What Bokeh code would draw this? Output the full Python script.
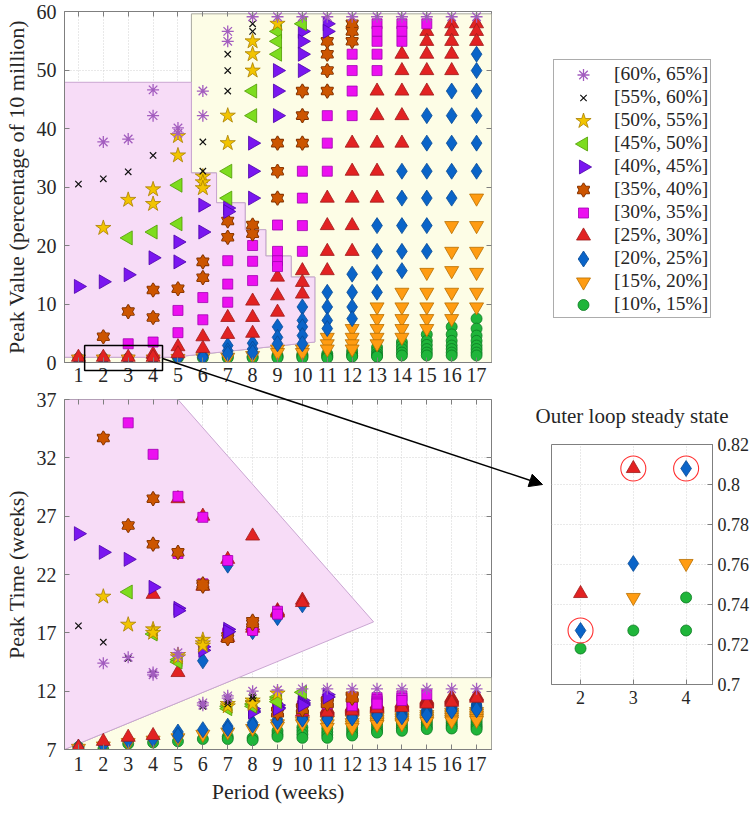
import math
from bokeh.plotting import figure
from bokeh.models import (Range1d, FixedTicker, Legend, LegendItem, Arrow, LinearAxis,
                          NormalHead, ColumnDataSource, CustomJSTickFormatter)
from bokeh.embed import file_html
from bokeh.resources import INLINE

FONT = "Liberation Serif"

# ---------------- ticks and labels ----------------
period_ticks = list(range(1, 18))
peak_ticks = [0, 10, 20, 30, 40, 50, 60]
time_ticks = [7, 12, 17, 22, 27, 32, 37]
inset_period_ticks = [2, 3, 4]
inset_value_ticks = [0.70, 0.72, 0.74, 0.76, 0.78, 0.80, 0.82]

series_keys = ["s60", "s55", "s50", "s45", "s40", "s35", "s30", "s25", "s20", "s15", "s10"]
series_labels = ["[60%, 65%]", "[55%, 60%]", "[50%, 55%]", "[45%, 50%]", "[40%, 45%]",
                 "[35%, 40%]", "[30%, 35%]", "[25%, 30%]", "[20%, 25%]", "[15%, 20%]",
                 "[10%, 15%]"]

# ---------------- series data (period, peak value, peak time) ----------------
s60_period = [2, 3, 4, 4, 5, 5, 6, 6, 7, 7, 8, 9, 10, 11, 12, 13, 14, 15, 16, 17]
s60_peak = [37.7, 38.2, 46.6, 42.2, 40.1, 39.2, 46.4, 42.2, 56.6, 54.9, 59.1, 59.1, 59.1,
            59.1, 59.1, 59.1, 59.1, 59.1, 59.1, 59.1]
s60_time = [14.4, 14.9, 13.6, 13.4, 15.3, 15.0, 11.0, 10.8, 11.6, 11.4, 12.0, 12.1, 12.2,
            12.2, 12.2, 12.2, 12.2, 12.2, 12.2, 12.2]

s55_period = [1, 2, 3, 4, 6, 6, 7, 7, 7, 8, 8]
s55_peak = [30.5, 31.4, 32.6, 35.4, 37.7, 32.7, 52.7, 49.9, 46.4, 57.9, 56.6]
s55_time = [17.6, 16.2, 14.8, 13.5, 10.9, 10.7, 11.3, 11.1, 10.9, 11.6, 11.4]

s50_period = [2, 3, 4, 4, 5, 5, 6, 6, 6, 7, 7, 8, 8, 8, 9]
s50_peak = [23.0, 27.8, 29.6, 27.1, 38.7, 35.4, 31.8, 30.8, 29.8, 42.2, 37.5, 54.9, 52.7, 49.9, 57.9]
s50_time = [20.1, 17.7, 17.3, 17.0, 15.1, 14.9, 16.4, 16.1, 15.9, 10.9, 10.7, 11.2, 11.0, 10.9, 11.8]

s45_period = [3, 4, 5, 5, 7, 7, 8, 8, 9, 9, 9, 10]
s45_peak = [21.3, 22.3, 30.3, 23.7, 32.7, 28.1, 46.4, 42.2, 56.6, 54.9, 52.7, 57.9]
s45_time = [20.5, 16.9, 14.7, 14.5, 10.7, 10.5, 10.9, 10.7, 11.5, 11.3, 11.1, 11.9]

s40_period = [1, 2, 3, 4, 5, 5, 6, 6, 7, 7, 8, 8, 8, 9, 9, 9, 10, 10, 10, 10, 11, 11]
s40_peak = [13.0, 13.8, 15.0, 17.9, 20.6, 17.2, 26.9, 22.3, 26.4, 25.8, 37.5, 32.7, 28.1,
            49.9, 46.4, 42.2, 56.6, 54.9, 52.7, 49.9, 57.9, 56.6]
s40_time = [25.5, 23.9, 23.3, 20.9, 19.1, 18.9, 15.8, 15.5, 17.3, 17.1, 10.5, 10.3, 10.2,
            10.8, 10.6, 10.5, 11.2, 11.0, 10.9, 10.8, 11.7, 11.5]

s35_period = [2, 3, 4, 4, 5, 6, 6, 7, 7, 8, 8, 9, 9, 9, 10, 10, 10, 11, 11, 11, 11, 12, 12, 12]
s35_peak = [4.4, 8.7, 12.4, 7.7, 12.6, 17.2, 14.5, 24.2, 21.4, 23.5, 22.0, 37.5, 32.7, 28.1,
            46.4, 42.2, 37.5, 54.9, 52.7, 49.9, 46.4, 57.9, 56.6, 54.9]
s35_time = [33.7, 26.2, 28.5, 24.6, 23.9, 21.2, 21.0, 16.7, 16.5, 18.0, 17.8, 10.3, 10.2, 10.1,
            10.6, 10.5, 10.4, 11.2, 11.1, 11.0, 10.9, 11.6, 11.5, 11.4]

s30_period = [3, 4, 5, 5, 6, 6, 7, 7, 7, 8, 8, 8, 9, 9, 9, 9, 10, 10, 10, 10, 11, 11, 11,
              12, 12, 12, 12, 13, 13, 13, 13, 13, 14, 14, 14, 15]
s30_peak = [3.2, 3.5, 8.9, 5.1, 11.1, 7.3, 17.4, 13.4, 10.3, 20.0, 17.3, 14.0, 23.5, 19.0,
            17.4, 16.4, 32.7, 28.1, 23.4, 19.0, 42.2, 37.5, 32.7, 52.7, 49.9, 46.4, 42.2,
            57.9, 56.6, 54.9, 52.7, 49.9, 57.9, 56.6, 54.9, 57.9]
s30_time = [35.0, 32.3, 28.7, 23.8, 26.9, 21.2, 23.2, 17.0, 16.9, 17.5, 17.3, 17.2, 10.6, 10.5,
            18.85, 18.6, 10.75, 10.65, 10.55, 10.45, 11.3, 11.1, 10.9, 11.2, 11.05, 10.9, 10.75,
            11.45, 11.3, 11.15, 11.0, 10.9, 11.6, 11.4, 11.2, 11.7]

s25_period = [1, 2, 3, 4, 4, 5, 5, 6, 6, 7, 7, 8, 8, 8, 9, 9, 9, 10, 10, 10,
              11, 11, 11, 11, 12, 12, 12, 12, 12, 13, 13, 13, 13, 13, 14, 14, 14, 14, 14,
              15, 15, 15, 15, 15, 16, 16, 16, 16, 16, 17, 17, 17]
s25_peak = [0.9, 0.9, 0.9, 1.4, 0.9, 2.7, 1.5, 4.4, 2.4, 7.7, 4.8, 10.5, 7.7, 5.0, 14.6, 11.4,
            8.6, 15.7, 13.7, 11.7,
            28.1, 23.4, 19.0, 15.7, 37.5, 32.7, 28.1, 23.4, 19.0, 46.4, 42.2, 37.5, 32.7, 28.1,
            52.7, 49.9, 46.4, 42.2, 37.5, 56.6, 54.9, 52.7, 49.9, 46.4, 57.9, 56.6, 54.9, 52.7,
            49.9, 57.9, 56.6, 54.9]
s25_time = [7.2, 7.7, 8.05, 20.3, 8.2, 28.5, 13.6, 27.0, 21.0, 23.3, 16.6, 25.3, 17.6, 17.4,
            18.9, 18.8, 18.7, 10.2, 19.8, 19.6,
            10.5, 10.4, 10.3, 10.2, 10.7, 10.6, 10.5, 10.4, 10.3, 10.9, 10.8, 10.7, 10.6, 10.5,
            11.0, 10.9, 10.8, 10.7, 10.6, 11.3, 11.2, 11.1, 11.0, 10.9, 11.45, 11.35, 11.25,
            11.15, 11.05, 11.6, 11.5, 11.4]

s20_period = [1, 2, 3, 4, 5, 5, 6, 6, 7, 7, 7, 8, 8, 8, 9, 9, 9, 10, 10, 10, 10, 10,
              11, 11, 11, 11, 12, 12, 12, 12, 13, 13, 13, 13, 14, 14, 14, 14, 14,
              15, 15, 15, 15, 15, 15, 16, 16, 16, 16, 16, 17, 17, 17, 17, 17, 17]
s20_peak = [0.5, 0.5, 0.5, 0.6, 1.0, 0.8, 1.2, 0.9, 2.9, 2.0, 1.5, 3.3, 2.3, 1.7, 6.1, 4.3,
            3.2, 9.5, 7.2, 6.1, 4.6, 3.2,
            12.0, 9.5, 7.2, 5.8, 15.1, 12.0, 9.5, 7.5, 23.4, 19.0, 15.4, 12.0,
            32.7, 28.1, 23.4, 19.0, 15.7, 42.2, 37.5, 32.7, 28.1, 23.4, 19.0,
            46.4, 42.2, 37.5, 32.7, 28.1, 52.7, 49.9, 46.4, 42.2, 37.5, 32.7]
s20_time = [7.2, 7.4, 7.8, 7.9, 8.5, 8.2, 14.6, 8.7, 22.8, 9.0, 8.8, 17.1, 9.3, 9.1, 18.3, 9.6,
            9.4, 19.4, 9.9, 9.8, 9.7, 9.6,
            9.9, 9.8, 9.7, 9.6, 10.0, 9.9, 9.8, 9.7, 10.2, 10.1, 10.0, 9.9,
            10.2, 10.1, 10.0, 9.9, 9.8, 10.45, 10.35, 10.25, 10.15, 10.05, 9.95,
            10.7, 10.6, 10.5, 10.4, 10.3, 10.9, 10.8, 10.7, 10.6, 10.5, 10.4]

s15_period = [1, 2, 3, 4, 5, 6, 7, 8, 9, 9, 10, 10, 11, 11, 11, 12, 12, 12, 12,
              13, 13, 13, 13, 13, 14, 14, 14, 14, 14, 15, 15, 15, 15, 15,
              16, 16, 16, 16, 16, 16, 17, 17, 17, 17, 17, 17]
s15_peak = [0.6, 0.6, 0.6, 0.6, 0.7, 0.8, 0.9, 1.2, 2.3, 1.7, 2.3, 1.7, 4.3, 3.2, 2.3, 5.8,
            4.3, 3.2, 2.3,
            9.5, 7.5, 5.8, 4.3, 3.2, 12.0, 9.5, 7.5, 5.8, 4.3, 15.4, 12.0, 9.5, 7.5, 5.8,
            23.4, 19.0, 15.7, 12.0, 9.5, 7.5, 28.1, 23.4, 19.0, 15.4, 12.0, 9.5]
s15_time = [7.1, 7.3, 7.6, 7.8, 8.0, 8.3, 8.5, 8.8, 9.2, 9.0, 9.4, 9.2, 9.5, 9.2, 8.9, 9.6,
            9.3, 9.1, 8.9,
            9.75, 9.6, 9.45, 9.3, 9.15, 9.8, 9.65, 9.5, 9.35, 9.2, 10.0, 9.85, 9.7, 9.55, 9.4,
            10.2, 10.05, 9.9, 9.75, 9.6, 9.45, 10.25, 10.1, 9.95, 9.8, 9.65, 9.5]

s10_period = [1, 2, 3, 4, 5, 6, 7, 7, 8, 8, 9, 9, 9, 10, 10, 10, 10, 11, 11, 11, 11,
              12, 12, 12, 12, 13, 13, 13, 13, 13, 14, 14, 14, 14, 14,
              15, 15, 15, 15, 15, 15, 16, 16, 16, 16, 16, 16, 16,
              17, 17, 17, 17, 17, 17, 17, 17]
s10_peak = [0.7, 0.7, 0.7, 0.7, 0.8, 0.8, 1.0, 0.8, 1.0, 0.8, 1.2, 1.0, 0.8, 1.4, 1.2, 1.0,
            0.8, 1.5, 1.2, 1.0, 0.8,
            2.0, 1.5, 1.2, 1.0, 2.6, 2.0, 1.5, 1.2, 1.0, 3.5, 2.9, 2.3, 1.7, 1.2,
            4.8, 3.7, 3.0, 2.3, 1.7, 1.2, 6.1, 4.8, 3.7, 2.9, 2.3, 1.7, 1.2,
            7.5, 5.8, 4.6, 3.7, 2.9, 2.3, 1.7, 1.2]
s10_time = [7.2, 7.0, 7.5, 7.6, 7.7, 7.9, 8.1, 7.9, 8.0, 7.8, 8.6, 8.3, 8.1, 8.9, 8.6, 8.3,
            8.0, 8.8, 8.5, 8.25, 8.0,
            8.9, 8.65, 8.4, 8.2, 9.3, 9.05, 8.8, 8.6, 8.45, 9.5, 9.25, 9.0, 8.8, 8.6,
            9.75, 9.5, 9.3, 9.1, 8.9, 8.75, 9.9, 9.7, 9.5, 9.3, 9.1, 8.95, 8.8,
            9.95, 9.75, 9.55, 9.35, 9.15, 9.0, 8.85, 8.7]

# inset: outer loop steady state (periods 2-4)
inset_s25_period = [2, 3]
inset_s25_value = [0.7455, 0.808]
inset_s20_period = [2, 3, 4]
inset_s20_value = [0.727, 0.7605, 0.808]
inset_s15_period = [3, 4]
inset_s15_value = [0.7435, 0.7605]
inset_s10_period = [2, 3, 4, 4]
inset_s10_value = [0.718, 0.727, 0.727, 0.7435]
inset_marked_period = [2, 3, 4]
inset_marked_value = [0.727, 0.808, 0.808]

# shaded regions (data space)
X0, X1 = 0.44, 17.6
top_pink_x = [X0, 5.54, 5.54, 6.55, 6.55, 7.7, 7.7, 8.53, 8.53, 9.55, 9.55, 10.5, 10.5, 4.8, X0]
top_pink_y = [47.9, 47.9, 32.4, 32.4, 27.3, 27.3, 22.7, 22.7, 18.2, 18.2, 14.6, 14.6, 3.5, 0.9, 0.9]
top_yellow_x = [X0, X1, X1, 5.54, 5.54, 6.55, 6.55, 7.7, 7.7, 8.53, 8.53, 9.55, 9.55, 10.5, 10.5, 4.8, X0]
top_yellow_y = [0, 0, 59.6, 59.6, 32.4, 32.4, 27.3, 27.3, 22.7, 22.7, 18.2, 18.2, 14.6, 14.6, 3.5, 0.9, 0.9]
bot_pink_x = [X0, 5.0, 12.86, X0]
bot_pink_y = [37.0, 37.0, 17.94, 7.0]
bot_yellow_x = [X0, X1, X1, 7.43, X0]
bot_yellow_y = [7.0, 7.0, 13.16, 13.16, 7.0]
ZOOM_BOX = (1.45, 4.58, -1.36, 2.9)   # left, right, bottom, top (top-panel data)

SERIES = {
    "s60": (s60_period, s60_peak, s60_time),
    "s55": (s55_period, s55_peak, s55_time),
    "s50": (s50_period, s50_peak, s50_time),
    "s45": (s45_period, s45_peak, s45_time),
    "s40": (s40_period, s40_peak, s40_time),
    "s35": (s35_period, s35_peak, s35_time),
    "s30": (s30_period, s30_peak, s30_time),
    "s25": (s25_period, s25_peak, s25_time),
    "s20": (s20_period, s20_peak, s20_time),
    "s15": (s15_period, s15_peak, s15_time),
    "s10": (s10_period, s10_peak, s10_time),
}

STYLE = {
    "s60": dict(marker="asterisk", size=12, fill=None, line="#a35dbf", lw=1.3),
    "s55": dict(marker="x", size=9, fill=None, line="#111111", lw=1.2),
    "s50": dict(marker="star", size=16, fill="#f2c400", line="#a87f00", lw=0.8),
    "s45": dict(marker="triangle", size=14, fill="#7ddc1f", line="#4f9a00", lw=0.8, angle=math.pi / 2),
    "s40": dict(marker="triangle", size=14, fill="#7a16f0", line="#4c00a8", lw=0.8, angle=-math.pi / 2),
    "s35": dict(marker="hexagram", size=12, fill="#cc5500", line="#7d3000", lw=0.8),
    "s30": dict(marker="square", size=10, fill="#ec10f0", line="#a000b0", lw=0.8),
    "s25": dict(marker="triangle", size=14, fill="#e22222", line="#9e1a1a", lw=0.8),
    "s20": dict(marker="diamond", size=16, fill="#0a64c8", line="#074a94", lw=0.8),
    "s15": dict(marker="inverted_triangle", size=14, fill="#ff9c12", line="#b86e00", lw=0.8),
    "s10": dict(marker="circle", size=11, fill="#1fb53a", line="#0d7a22", lw=0.8),
}

PINK, PINK_EDGE = "#f7dcf7", "#caa6d2"
YELLOW, YELLOW_EDGE = "#fdfde6", "#a9a99f"
TXT = "#262626"
FRAME = "#7f7f7f"


def draw(p, xs, ys, st, alpha=1.0):
    n = min(len(xs), len(ys))
    src = ColumnDataSource(dict(x=list(xs[:n]), y=list(ys[:n])))
    common = dict(source=src, size=st["size"], angle=st.get("angle", 0.0),
                  fill_alpha=alpha, line_alpha=alpha)
    if st["marker"] == "hexagram":
        rs = []
        for m in ("triangle", "inverted_triangle"):
            rs.append(p.scatter("x", "y", marker=m, fill_color=st["line"], line_color=st["line"],
                                line_width=1.6, **common))
        for m in ("triangle", "inverted_triangle"):
            rs.append(p.scatter("x", "y", marker=m, fill_color=st["fill"], line_color=None, **common))
        return rs
    return [p.scatter("x", "y", marker=st["marker"], fill_color=st["fill"], line_color=st["line"],
                      line_width=st["lw"], **common)]


def style_axis(ax, size="20px", standoff=7, label_standoff=0):
    ax.major_label_text_font = FONT
    ax.major_label_text_font_size = size
    ax.major_label_text_color = TXT
    ax.major_label_standoff = standoff
    ax.axis_line_color = FRAME
    ax.major_tick_line_color = FRAME
    ax.major_tick_in = 5
    ax.major_tick_out = 0
    ax.minor_tick_line_color = None
    ax.axis_label_text_font = FONT
    ax.axis_label_text_font_size = "22px"
    ax.axis_label_text_font_style = "normal"
    ax.axis_label_text_color = TXT
    ax.axis_label_standoff = label_standoff


def box_ticks(p, xticks, yticks, xside, yside):
    # unlabeled tick marks on the opposite edges (boxed axes)
    for ticks, side in ((xticks, xside), (yticks, yside)):
        ax = LinearAxis(ticker=FixedTicker(ticks=ticks),
                        formatter=CustomJSTickFormatter(code="return '';"))
        ax.major_label_text_font_size = "1px"
        ax.major_label_standoff = 0
        ax.major_tick_in = 5
        ax.major_tick_out = 0
        ax.major_tick_line_color = FRAME
        ax.minor_tick_line_color = None
        ax.axis_line_color = None
        p.add_layout(ax, side)


def style_grid(p):
    for g in p.grid:
        g.grid_line_color = "#d2d2d2"
        g.grid_line_dash = "1 2"
        g.grid_line_width = 1


def place(p, left, top, z=None):
    st = {"position": "absolute", "left": f"{left}px", "top": f"{top}px"}
    if z is not None:
        st["z-index"] = str(z)
    p.styles = st


# ---------------- layout constants (page pixels) ----------------
PW, PH = 749, 812
TOP_L, TOP_T, FW, TOP_FH, TOP_B = 59, 11, 427, 351, 34
BOT_Y = 380
BOT_T, BOT_FH, BOT_B, BOT_R = 19, 350, 60, 20
BOT_W = TOP_L + FW + BOT_R
INS_X, INS_Y = BOT_W, 374
INS_L, INS_FW, INS_R, INS_T, INS_FH, INS_B = 45, 161, 37, 70, 240, 36
IX0, IX1, IY0, IY1 = 1.45, 4.5, 0.70, 0.82
LEG_X, LEG_Y = 553, 61
LEG_PAD, LEG_GH, LEG_GW = 2, 23, 56

# ---------------- top panel ----------------
top = figure(frame_width=FW, frame_height=TOP_FH, min_border_left=TOP_L,
             min_border_right=PW - TOP_L - FW, min_border_top=TOP_T, min_border_bottom=TOP_B,
             x_range=Range1d(X0, X1), y_range=Range1d(0, 60), title=None,
             toolbar_location=None, output_backend="svg")
place(top, 0, 0)
top.outline_line_color = FRAME
top.patch(top_yellow_x, top_yellow_y, fill_color=YELLOW, line_color=YELLOW_EDGE, line_width=1)
top.patch(top_pink_x, top_pink_y, fill_color=PINK, line_color=PINK_EDGE, line_width=1)
for k in reversed(series_keys):
    per, pk, tm = SERIES[k]
    draw(top, per, pk, STYLE[k])
top.xaxis.ticker = FixedTicker(ticks=period_ticks)
top.yaxis.ticker = FixedTicker(ticks=peak_ticks)
style_axis(top.xaxis[0], standoff=5)
style_axis(top.yaxis[0], standoff=8, label_standoff=5)
top.yaxis[0].axis_label = "Peak Value (percentage of 10 million)"
style_grid(top)
box_ticks(top, period_ticks, peak_ticks, "above", "right")

# ---------------- bottom panel ----------------
bot = figure(frame_width=FW, frame_height=BOT_FH, min_border_left=TOP_L, min_border_right=BOT_R,
             min_border_top=BOT_T, min_border_bottom=BOT_B,
             x_range=Range1d(X0, X1), y_range=Range1d(7, 37), title=None,
             toolbar_location=None, output_backend="svg")
place(bot, 0, BOT_Y)
bot.border_fill_alpha = 0
bot.outline_line_color = FRAME
bot.patch(bot_yellow_x, bot_yellow_y, fill_color=YELLOW, line_color=YELLOW_EDGE, line_width=1)
bot.patch(bot_pink_x, bot_pink_y, fill_color=PINK, line_color=PINK_EDGE, line_width=1)
for k in reversed(series_keys):
    per, pk, tm = SERIES[k]
    draw(bot, per, tm, STYLE[k])
bot.xaxis.ticker = FixedTicker(ticks=period_ticks)
bot.yaxis.ticker = FixedTicker(ticks=time_ticks)
style_axis(bot.xaxis[0], standoff=7, label_standoff=5)
style_axis(bot.yaxis[0], standoff=8, label_standoff=5)
bot.xaxis[0].axis_label = "Period (weeks)"
bot.yaxis[0].axis_label = "Peak Time (weeks)"
style_grid(bot)
box_ticks(bot, period_ticks, time_ticks, "above", "right")

# ---------------- inset ----------------
ins = figure(frame_width=INS_FW, frame_height=INS_FH, min_border_left=INS_L, min_border_right=INS_R,
             min_border_top=INS_T, min_border_bottom=INS_B,
             x_range=Range1d(IX0, IX1), y_range=Range1d(IY0, IY1), y_axis_location="right",
             title="Outer loop steady state", toolbar_location=None, output_backend="svg")
place(ins, INS_X, INS_Y)
ins.border_fill_alpha = 0
ins.outline_line_color = FRAME
ins.title.text_font = FONT
ins.title.text_font_size = "21px"
ins.title.text_font_style = "normal"
ins.title.text_color = TXT
ins.title.align = "center"
ins.title.standoff = 34
ins.title.offset = 2
draw(ins, inset_s10_period, inset_s10_value, STYLE["s10"])
draw(ins, inset_s15_period, inset_s15_value, STYLE["s15"])
draw(ins, inset_s20_period, inset_s20_value, STYLE["s20"])
draw(ins, inset_s25_period, inset_s25_value, STYLE["s25"])
ins.scatter(inset_marked_period, inset_marked_value, marker="circle", size=25,
            fill_color=None, line_color="#ff3030", line_width=1.1)
ins.xaxis.ticker = FixedTicker(ticks=inset_period_ticks)
ins.yaxis.ticker = FixedTicker(ticks=inset_value_ticks)
ins.yaxis.formatter = CustomJSTickFormatter(code="return tick.toFixed(2).replace(/0$/, '');")
style_axis(ins.xaxis[0], size="18px", standoff=6)
style_axis(ins.yaxis[0], size="18px", standoff=5)
style_grid(ins)

# ---------------- overlay (legend, zoom box, arrow) ----------------
kx = (X1 - X0) / FW
ky = 60.0 / TOP_FH
ovx0, ovx1 = X0 - TOP_L * kx, X0 + (PW - TOP_L) * kx
ovy1 = 60 + TOP_T * ky
ovy0 = ovy1 - PH * ky


def page_to_ov(px, py):
    return ovx0 + px * kx, ovy1 - py * ky


ov = figure(width=PW, height=PH, x_range=Range1d(ovx0, ovx1), y_range=Range1d(ovy0, ovy1),
            min_border=0, min_border_left=0, min_border_right=0, min_border_top=0,
            min_border_bottom=0, x_axis_location=None, y_axis_location=None, title=None,
            toolbar_location=None, output_backend="svg")
place(ov, 0, 0, z=10)
ov.outline_line_color = None
ov.background_fill_alpha = 0
ov.border_fill_alpha = 0
for g in ov.grid:
    g.visible = False

bl, br, bb, bt = ZOOM_BOX
ov.quad(left=[bl], right=[br], bottom=[bb], top=[bt], fill_color=None,
        line_color="black", line_width=1.5)

# arrow end: just left of the inset frame, at the 0.80 level
end_x, end_y = page_to_ov(INS_X + INS_L - 9,
                          INS_Y + INS_T + (IY1 - 0.80) / (IY1 - IY0) * INS_FH)
ov.add_layout(Arrow(end=NormalHead(size=13, fill_color="black", line_color="black"),
                    x_start=br, y_start=(bb + bt) / 2 - 0.1, x_end=end_x, y_end=end_y,
                    line_color="black", line_width=1.5))

# legend: Legend model for box + labels (transparent background, page behind is white);
# glyph samples drawn at the legend's glyph slots so that left/right triangles keep orientation
proxy_x = [ovx1 + 10.0]
proxy_y = [ovy0 - 10.0]
items = []
for i, (k, lab) in enumerate(zip(series_keys, series_labels)):
    rs = draw(ov, proxy_x, proxy_y, STYLE[k], alpha=0.0)
    items.append(LegendItem(label=lab, renderers=rs))
    gx, gy = page_to_ov(LEG_X + LEG_PAD + LEG_GW / 2, LEG_Y + LEG_PAD + LEG_GH * (i + 0.5))
    draw(ov, [gx], [gy], STYLE[k])
LEG_H = 2 * LEG_PAD + len(items) * LEG_GH
legend = Legend(items=items, location=(LEG_X, PH - LEG_Y - LEG_H))
legend.padding = LEG_PAD
legend.spacing = 0
legend.glyph_height = LEG_GH
legend.label_height = LEG_GH
legend.glyph_width = LEG_GW
legend.label_standoff = 2
legend.margin = 0
legend.label_text_font = FONT
legend.label_text_font_size = "19.5px"
legend.label_text_color = TXT
legend.border_line_color = "#5a5a5a"
legend.border_line_width = 1
legend.background_fill_alpha = 0
ov.add_layout(legend)

open("out.html", "w").write(file_html([top, bot, ins, ov], INLINE))
